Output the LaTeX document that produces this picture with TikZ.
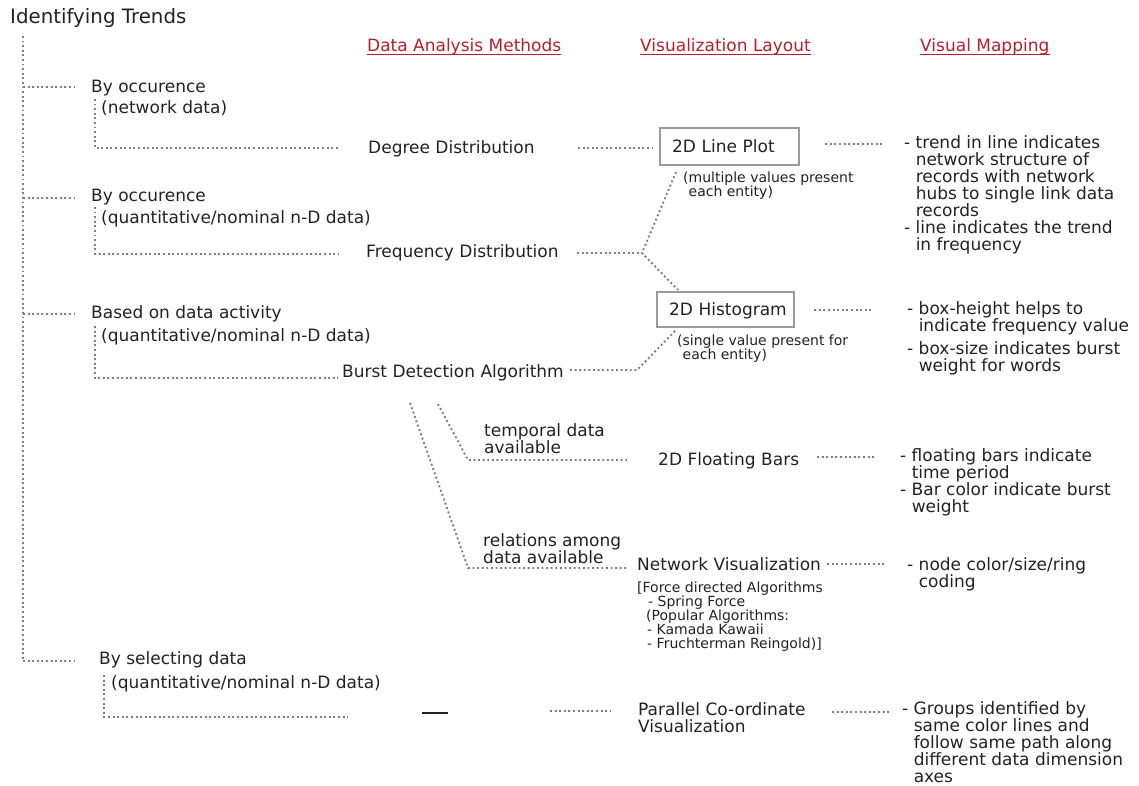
\documentclass[tikz,border=0pt]{standalone}
\usepackage{fontspec}
\setmainfont{DejaVu Sans}
\definecolor{ink}{HTML}{222222}
\definecolor{dotc}{HTML}{7E7E7E}
\definecolor{boxc}{HTML}{9A9A9A}
\definecolor{headc}{HTML}{B3202C}
% strut that fixes the top of a multi-line node relative to its first baseline
\newcommand{\fl}{\rule{0pt}{0.8em}}
% hanging indent for the continuation lines of a "- " item
\newcommand{\hi}{\phantom{-~}}
\begin{document}
\begin{tikzpicture}[x=1pt,y=-1pt,
  every node/.style={inner sep=0pt, text=ink},
  dots/.style={draw=dotc, line width=1.9pt, dash pattern=on 1.9pt off 2.7pt},
  tl/.style={font=\fontsize{17}{17}\selectfont, anchor=base west, yshift=-6pt},
  ml/.style={font=\fontsize{17}{17}\selectfont, anchor=north west, align=left, yshift=7.6pt},
  ms/.style={font=\fontsize{14}{14}\selectfont, anchor=north west, align=left, yshift=6.2pt},
  head/.style={tl, text=headc},
  uline/.style={draw=headc, line width=1.3pt},
  layout/.style={draw=boxc, line width=2.4pt, font=\fontsize{17}{17}\selectfont,
    align=left, inner xsep=12pt, inner ysep=0pt, text height=12pt, text depth=0pt, anchor=center},
]
\useasboundingbox (0,0) rectangle (1139,786);

% ---------- title and column headings ----------
\node[font=\fontsize{19.8}{20}\selectfont, anchor=base west, yshift=-7pt] (title) at (10,17) {Identifying Trends};
\node[head] (h1) at (367,46) {Data Analysis Methods};
\node[head] (h2) at (640,46) {Visualization Layout};
\node[head] (h3) at (920,46) {Visual Mapping};
\foreach \h in {h1,h2,h3}
  \draw[uline] ([yshift=-2.5pt]\h.base west) -- ([yshift=-2.5pt]\h.base east);

% ---------- trend kinds ----------
\node[tl] (occ1) at (91,87) {By occurence};
\node[tl] (nd) at (101,108) {(network data)};
\node[tl] (occ2) at (91,196) {By occurence};
\node[tl] (qn1) at (101,217) {(quantitative/nominal n-D data)};
\node[tl] (act) at (91,312) {Based on data activity};
\node[tl] (qn2) at (101,335) {(quantitative/nominal n-D data)};
\node[tl] (sel) at (99,658) {By selecting data};
\node[tl] (qn3) at (111,682) {(quantitative/nominal n-D data)};

% ---------- analysis methods ----------
\node[tl] (deg) at (368,148) {Degree Distribution};
\node[tl] (freq) at (366,251) {Frequency Distribution};
\node[tl] (burst) at (342,371) {Burst Detection Algorithm};
\node[ml, font=\fontsize{17}{16}\selectfont] (temp) at (484,430) {\fl temporal data\\available};
\node[ml, font=\fontsize{17}{16}\selectfont] (rel) at (483,540) {\fl relations among\\data available};

% ---------- layouts ----------
\node[layout, text width=115pt, minimum height=37pt] (lp) at (729.5,146.5) {\mbox{2D Line Plot}};
\node[layout, text width=113pt, minimum height=35pt] (hg) at (725.5,309.5) {\mbox{2D Histogram}};
\node[ms] (lpn) at (683,177) {\fl(multiple values present\\\phantom{(}each entity)};
\node[ms] (hgn) at (677,340) {\fl(single value present for\\\phantom{(}each entity)};
\node[tl] (fb) at (658,459) {2D Floating Bars};
\node[tl] (nv) at (637,564) {Network Visualization};
\node[ms] (nvn) at (637,587) {\fl[Force directed Algorithms\\\hspace*{11pt}- Spring Force\\\hspace*{9pt}(Popular Algorithms:\\\hspace*{10pt}- Kamada Kawaii\\\hspace*{10pt}- Fruchterman Reingold)]};
\node[ml] (pc) at (638,709) {\fl Parallel Co-ordinate\\Visualization};

% ---------- visual mappings ----------
\node[ml] (m1) at (904,142) {\fl- trend in line indicates\\\hi network structure of\\\hi records with network\\\hi hubs to single link data\\\hi records\\- line indicates the trend\\\hi in frequency};
\node[ml] (m2a) at (907,308) {\fl- box-height helps to\\\hi indicate frequency value};
\node[ml] (m2b) at (907,348) {\fl- box-size indicates burst\\\hi weight for words};
\node[ml] (m3) at (900,455) {\fl- floating bars indicate\\\hi time period\\- Bar color indicate burst\\\hi weight};
\node[ml] (m4) at (907,564) {\fl- node color/size/ring\\\hi coding};
\node[ml] (m5) at (902,708) {\fl- Groups identified by\\\hi same color lines and\\\hi follow same path along\\\hi different data dimension\\\hi axes};

% ---------- main trunk and branches ----------
\coordinate (top) at (23,36);
\coordinate (k1) at (23,87);
\coordinate (k2) at (23,198);
\coordinate (k3) at (23,314);
\coordinate (k4) at (23,661);
\draw[dots] (top) -- (k4);
\foreach \k/\n in {k1/occ1,k2/occ2,k3/act}
  \draw[dots, shorten >=16pt] (\k) -- (\k -| \n.west);
\draw[dots, shorten >=25pt] (k4) -- (k4 -| sel.west);

% ---------- sub trunks to the methods ----------
\coordinate (u1) at (95,99);  \coordinate (e1) at (95,148);
\draw[dots, shorten >=28pt] (u1) -- (e1) -- (e1 -| deg.west);
\coordinate (u2) at (95,207); \coordinate (e2) at (95,254);
\draw[dots, shorten >=28pt] (u2) -- (e2) -- (e2 -| freq.west);
\coordinate (u3) at (95,326); \coordinate (e3) at (95,378);
\draw[dots, shorten >=4pt] (u3) -- (e3) -- (e3 -| burst.west);
\coordinate (u4) at (104,675); \coordinate (e4) at (104,717); \coordinate (e4x) at (348,717);
\draw[dots] (u4) -- (e4) -- (e4x);

% ---------- methods to layouts ----------
\coordinate (d1) at (578,148);
\draw[dots, shorten >=7pt] (d1) -- (d1 -| lp.west);
\coordinate (f1) at (577,253); \coordinate (j1) at (642,253);
\coordinate (j1u) at (676,172); \coordinate (j1d) at (678,290);
\draw[dots] (f1) -- (j1);
\draw[dots] (j1u) -- (j1) -- (j1d);
\coordinate (b1) at (570,370); \coordinate (j2) at (637,370); \coordinate (j2u) at (676,330);
\draw[dots] (b1) -- (j2) -- (j2u);
\coordinate (a0) at (410,403); \coordinate (a1) at (468,568); \coordinate (a2) at (628,568);
\draw[dots] (a0) -- (a1) -- (a2);
\coordinate (c0) at (438,404); \coordinate (c1) at (468,460); \coordinate (c2) at (628,460);
\draw[dots] (c0) -- (c1) -- (c2);
\coordinate (dl) at (422,713); \coordinate (dr) at (448,713);
\draw[ink, line width=1.2pt] (dl) -- (dr);
\coordinate (p0) at (550,711); \coordinate (p1) at (611,711);
\draw[dots] (p0) -- (p1);

% ---------- layouts to mappings ----------
\coordinate (d2) at (884,144);
\draw[dots, shorten <=25pt] (d2 -| lp.east) -- (d2);
\coordinate (d3) at (873,310);
\draw[dots, shorten <=19pt] (d3 -| hg.east) -- (d3);
\coordinate (d4) at (817,457); \coordinate (d4e) at (875,457);
\draw[dots] (d4) -- (d4e);
\coordinate (d5) at (827,564); \coordinate (d5e) at (885,564);
\draw[dots] (d5) -- (d5e);
\coordinate (d6) at (832,712); \coordinate (d6e) at (890,712);
\draw[dots] (d6) -- (d6e);
\end{tikzpicture}
\end{document}
